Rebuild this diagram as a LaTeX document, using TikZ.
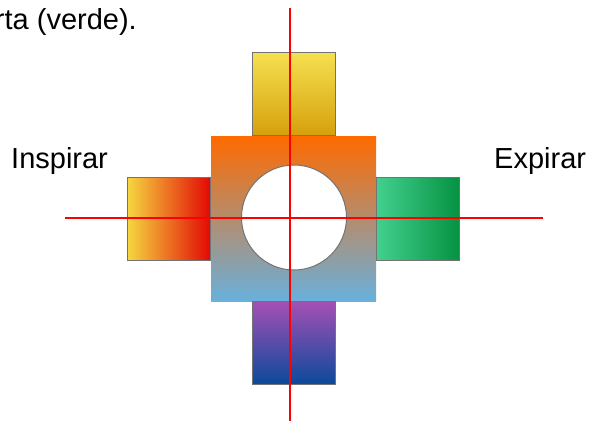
\documentclass[tikz,border=0pt]{standalone}
\usepackage{fontspec}
\setmainfont{Liberation Sans}
\usetikzlibrary{positioning}
\definecolor{sqtop}{RGB}{255,106,0}
\definecolor{sqbot}{RGB}{104,176,220}
\definecolor{uptop}{RGB}{245,224,80}
\definecolor{upbot}{RGB}{214,160,12}
\definecolor{lfleft}{RGB}{246,214,64}
\definecolor{lfright}{RGB}{226,8,4}
\definecolor{rtleft}{RGB}{66,208,142}
\definecolor{rtright}{RGB}{6,146,66}
\definecolor{dntop}{RGB}{164,80,180}
\definecolor{dnbot}{RGB}{10,74,154}
\begin{document}
\begin{tikzpicture}[x=1pt,y=-1pt]
\tikzset{arm/.style={draw=black!55,line width=0.6pt,minimum width=83pt,minimum height=83pt,inner sep=0pt},lbl/.style={font=\fontsize{29}{35}\selectfont,inner sep=0pt},axis/.style={red,line width=1.3pt}}
\useasboundingbox (0,0) rectangle (589,421);
\node[lbl,anchor=base east] (note) at (137,29) {rta (verde).};
\node[minimum size=165pt,inner sep=0pt,top color=sqtop,bottom color=sqbot] (sq) at (293.5,218.5) {};
\node[arm,above=0pt of sq,top color=uptop,bottom color=upbot] (up) {};
\node[arm,below=0pt of sq,top color=dntop,bottom color=dnbot] (dn) {};
\node[arm,left=0pt of sq,left color=lfleft,right color=lfright] (lf) {};
\node[arm,right=0pt of sq,left color=rtleft,right color=rtright] (rt) {};
\node[circle,draw=black!55,line width=1pt,fill=white,minimum size=105pt,inner sep=0pt] (hole) at (294,217.5) {};
\node[lbl,anchor=base west] (insp) at (11,168) {Inspirar};
\node[lbl,anchor=base west] (exp) at (494,168) {Expirar};
\coordinate (vt) at (290,8); \coordinate (vb) at (290,421);
\coordinate (hl) at (65,218); \coordinate (hr) at (543,218);
\draw[axis](vt)--(vb); \draw[axis](hl)--(hr);
\end{tikzpicture}
\end{document}
